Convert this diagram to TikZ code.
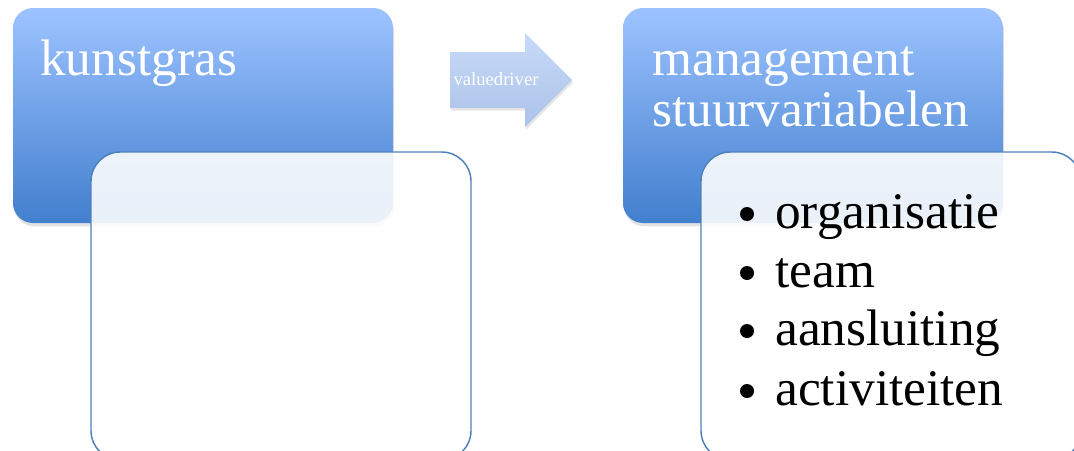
\documentclass[tikz,border=0pt]{standalone}
\usepackage{fontspec}
\setmainfont{Liberation Serif}
\usetikzlibrary{shadows}

\definecolor{boxtop}{RGB}{157,195,255}
\definecolor{boxbot}{RGB}{66,127,206}
\definecolor{boxline}{RGB}{79,129,189}
\definecolor{arrtop}{RGB}{200,218,248}
\definecolor{arrbot}{RGB}{172,194,232}

\begin{document}
\begin{tikzpicture}[x=0.75pt, y=-0.75pt,
    headbox/.style={rounded corners=15pt, top color=boxtop, bottom color=boxbot,
        drop shadow={opacity=0.22, shadow xshift=0.8pt, shadow yshift=-2.5pt}},
    listbox/.style={rounded corners=22pt, draw=boxline, line width=1.1pt,
        fill=white, fill opacity=0.89},
    headtext/.style={font=\fontsize{38.5}{38}\selectfont, text=white, anchor=base west, inner sep=0pt},
    itemtext/.style={font=\fontsize{38.5}{38}\selectfont, text=black, anchor=base west, inner sep=0pt},
    listdot/.style={circle, fill=black, inner sep=0pt, minimum size=10.5pt}]
    \useasboundingbox (0,0) rectangle (1074,450);

    % left pair
    \begin{scope}
        \path[headbox] (13,8) rectangle (393,223);
        \node[headtext] (kunst) at (40,75) {kunstgras};
        \draw[listbox] (91,152) rectangle (471,460);
    \end{scope}

    % arrow in the middle
    \path[top color=arrtop, bottom color=arrbot,
        drop shadow={opacity=0.2, shadow xshift=0.8pt, shadow yshift=-2pt}]
        (450,52) -- (525,52) -- (525,33) -- (572,80) -- (525,127) -- (525,108) -- (450,108) -- cycle;
    \node[font=\fontsize{14}{14}\selectfont, text=white, anchor=base, inner sep=0pt] (driver) at (496,85) {valuedriver};

    % right pair
    \begin{scope}
        \path[headbox] (623,8) rectangle (1003,223);
        \node[headtext] (mgmt) at (652,75) {management};
        \node[headtext] (stuur) at (652,126) {stuurvariabelen};
        \draw[listbox] (701,152) rectangle (1081,460);

        \node[itemtext] (org) at (775,228) {organisatie};
        \node[itemtext] (team) at (775,287) {team};
        \node[itemtext] (aans) at (775,345) {aansluiting};
        \node[itemtext] (act) at (775,405) {activiteiten};
        \node[listdot] (orgdot) at (747,214) {};
        \node[listdot] (teamdot) at (747,273) {};
        \node[listdot] (aansdot) at (747,331) {};
        \node[listdot] (actdot) at (747,391) {};
    \end{scope}
\end{tikzpicture}
\end{document}
